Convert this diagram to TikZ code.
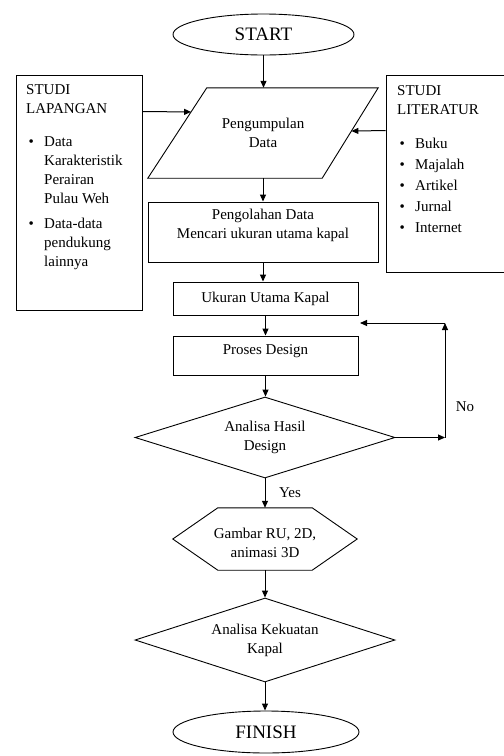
\documentclass[tikz,border=0pt]{standalone}
\usepackage{fontspec}
\setmainfont{Liberation Serif}
\usetikzlibrary{arrows.meta,shapes.geometric,calc}
\newcommand\mybul{\makebox[18pt][l]{\hspace{2.5pt}\textbullet}}
\newcommand\myind{\hspace{18pt}}
\begin{document}
\begin{tikzpicture}[x=1pt,y=-1pt,
  every node/.style={font=\fontsize{15}{19}\selectfont},
  box/.style={draw, line width=0.9pt, inner sep=0pt},
  txt/.style={align=center, inner sep=0pt},
  term/.style={ellipse, draw, line width=0.9pt, inner sep=0pt, font=\fontsize{19}{22}\selectfont},
  dia/.style={diamond, draw, line width=0.9pt, inner sep=0pt, align=center, aspect=3.1},
  arr/.style={-{Triangle[length=7pt,width=6pt]}, line width=1pt},
  outl/.style={line width=0.9pt}]
\useasboundingbox (0,0) rectangle (504,756);
\fill[white] (0,0) rectangle (504,756);
\clip (0,0) rectangle (504,756);

% terminals
\node[term, minimum width=181pt, minimum height=41pt] (start) at (263.5,34.5) {START};
\node[term, minimum width=186pt, minimum height=42pt] (fin) at (266,732) {FINISH};

% parallelogram
\node[txt, minimum width=172pt, minimum height=90pt] (pg) at (263,133) {Pengumpulan\\Data};
\coordinate (pgTL) at ([xshift=30pt]pg.north west);
\coordinate (pgTR) at ([xshift=29pt]pg.north east);
\coordinate (pgBR) at ([xshift=-27pt]pg.south east);
\coordinate (pgBL) at ([xshift=-29pt]pg.south west);
\draw[outl] (pgTL) -- (pgTR) -- (pgBR) -- (pgBL) -- cycle;

% boxes
\node[box, minimum width=230pt, minimum height=60pt] (b1) at (263,232) {};
\node[txt] (b1t) at (263,225) {Pengolahan Data\\Mencari ukuran utama kapal};
\node[box, minimum width=185pt, minimum height=33pt] (b2) at (265.5,298.5) {Ukuran Utama Kapal};
\node[box, minimum width=185pt, minimum height=39pt] (b3) at (265.5,355.5) {};
\node[txt] (b3t) at (265.5,351) {Proses Design};

% decision 1
\node[dia, minimum width=260pt, minimum height=81pt] (d1) at (265,437.5) {Analisa Hasil\\Design};

% hexagon
\node[txt, minimum width=94pt, minimum height=62pt] (hx) at (265,539) {};
\draw[outl] (hx.north west) -- (hx.north east) -- ([xshift=45pt]hx.east) -- (hx.south east) -- (hx.south west) -- ([xshift=-45pt]hx.west) -- cycle;
\node[txt] (hxt) at (265,543) {Gambar RU, 2D,\\animasi 3D};

% decision 2
\node[dia, minimum width=260pt, minimum height=84pt] (d2) at (265,640) {Analisa Kekuatan\\Kapal};

% side boxes
\node[box, minimum width=126pt, minimum height=235pt] (lap) at (79,192.5) {};
\node[anchor=base west, inner sep=0pt] (lapt) at (26,94) {\begin{tabular}[t]{@{}l@{}}
STUDI\\
LAPANGAN\\[14pt]
\mybul Data\\
\myind Karakteristik\\
\myind Perairan\\
\myind Pulau Weh\\[6pt]
\mybul Data-data\\
\myind pendukung\\
\myind lainnya
\end{tabular}};

\node[box, minimum width=122pt, minimum height=197pt] (lit) at (447,173.5) {};
\node[anchor=base west, inner sep=0pt] (litt) at (397,95) {\begin{tabular}[t]{@{}l@{}}
STUDI\\
LITERATUR\\[15pt]
\mybul Buku\\[2pt]
\mybul Majalah\\[2pt]
\mybul Artikel\\[2pt]
\mybul Jurnal\\[2pt]
\mybul Internet
\end{tabular}};

% main arrows
\draw[arr] (start.south) -- (start.south |- pgTL);
\draw[arr] (pg.south) -- (pg.south |- b1.north);
\draw[arr] (b1.south) -- (b1.south |- b2.north);
\draw[arr] (b2.south) -- (b2.south |- b3.north);
\draw[arr] (b3.south) -- (b3.south |- d1.north);
\draw[arr] (d1.south) -- (d1.south |- hx.north);
\draw[arr] (hx.south) -- (hx.south |- d2.north);
\draw[arr] (d2.south) -- (d2.south |- fin.north);

% side arrows
\coordinate (pgL) at ($(pgBL)!0.733!(pgTL)$);
\draw[arr] ([yshift=-37pt]lap.north east) -- (pgL);
\coordinate (pgR) at ($(pgBR)!0.522!(pgTR)$);
\draw[arr] ([yshift=-56pt]lit.north west) -- (pgR);

% loop
\coordinate (n1) at (445,437.5);
\coordinate (n2) at (445,323);
\coordinate (n3) at (360,323);
\draw[arr] (d1.east) -- (n1);
\draw[arr] (n1) -- (n2);
\draw[arr] (n2) -- (n3);

\node[txt] (no) at (465,407) {No};
\node[txt] (yes) at (290,493) {Yes};
\end{tikzpicture}
\end{document}
